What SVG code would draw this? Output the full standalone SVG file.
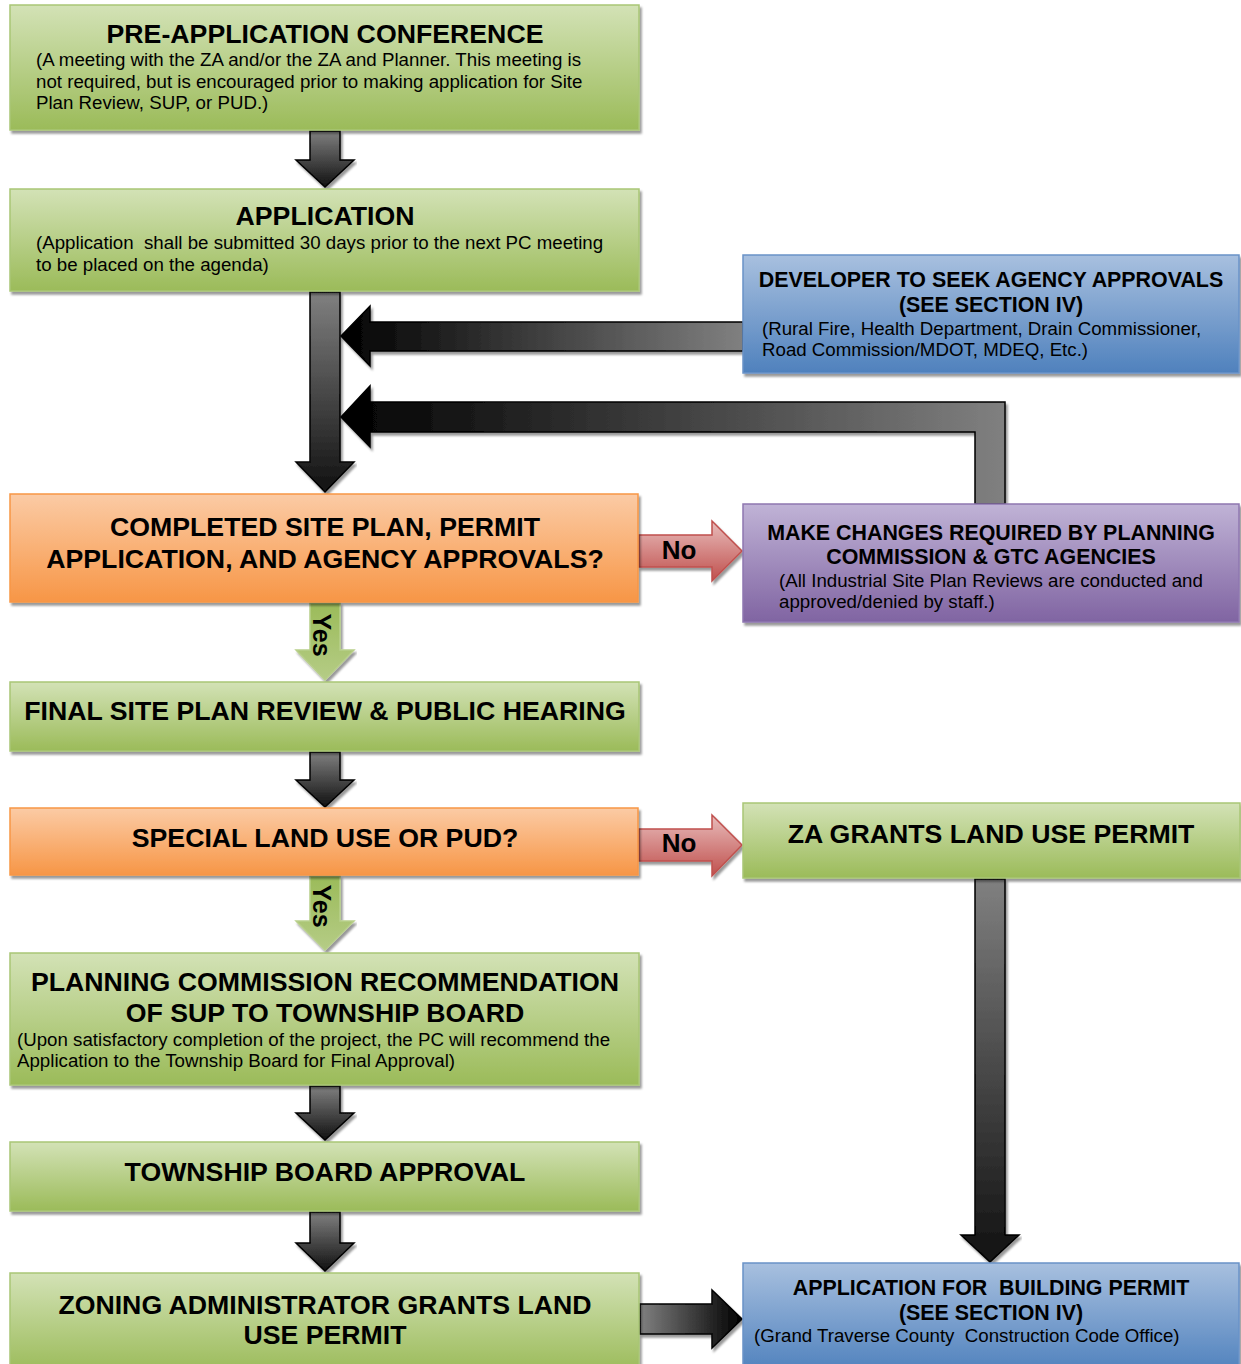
<svg xmlns="http://www.w3.org/2000/svg" width="1241" height="1364" viewBox="0 0 1241 1364">
<defs>
<linearGradient id="gGreen" x1="0" y1="0" x2="0" y2="1"><stop offset="0" stop-color="#d3e2b6"/><stop offset="1" stop-color="#9bbb59"/></linearGradient>
<linearGradient id="gOrange" x1="0" y1="0" x2="0" y2="1"><stop offset="0" stop-color="#fbcba5"/><stop offset="1" stop-color="#f79646"/></linearGradient>
<linearGradient id="gBlue" x1="0" y1="0" x2="0" y2="1"><stop offset="0" stop-color="#a8c0df"/><stop offset="1" stop-color="#4f81bd"/></linearGradient>
<linearGradient id="gPurple" x1="0" y1="0" x2="0" y2="1"><stop offset="0" stop-color="#c0b3d6"/><stop offset="1" stop-color="#8064a2"/></linearGradient>
<linearGradient id="gDown" x1="0" y1="0" x2="0" y2="1"><stop offset="0" stop-color="#808080"/><stop offset="1" stop-color="#111"/></linearGradient>
<linearGradient id="gLeft" x1="0" y1="0" x2="1" y2="0"><stop offset="0" stop-color="#000"/><stop offset="1" stop-color="#808080"/></linearGradient>
<linearGradient id="gRight" x1="0" y1="0" x2="1" y2="0"><stop offset="0" stop-color="#808080"/><stop offset="1" stop-color="#000"/></linearGradient>
<linearGradient id="gRed" x1="0" y1="0" x2="0" y2="1"><stop offset="0" stop-color="#e8bcbb"/><stop offset="1" stop-color="#c0504d"/></linearGradient>
<linearGradient id="gYes" x1="0" y1="0" x2="0" y2="1"><stop offset="0" stop-color="#9bbb59"/><stop offset="1" stop-color="#b5cc86"/></linearGradient>
<filter id="sh" x="-5%" y="-5%" width="110%" height="120%"><feDropShadow dx="2" dy="3" stdDeviation="1" flood-color="#000" flood-opacity="0.4"/></filter>
</defs>
<style>
.t{font-family:"Liberation Sans",Arial,sans-serif;font-weight:bold;fill:#000;text-anchor:middle;white-space:pre}
.b{font-family:"Liberation Sans",Arial,sans-serif;fill:#000;white-space:pre}
.green{fill:url(#gGreen);stroke:#a9c676;stroke-width:1.5;filter:url(#sh)}
.orange{fill:url(#gOrange);stroke:#f79646;stroke-width:1.5;filter:url(#sh)}
.blue{fill:url(#gBlue);stroke:#6a93c8;stroke-width:1.5;filter:url(#sh)}
.purple{fill:url(#gPurple);stroke:#8f77b0;stroke-width:1.5;filter:url(#sh)}
.dk{stroke:#000;stroke-width:1.5;filter:url(#sh)}
.red{fill:url(#gRed);stroke:#c0504d;stroke-width:1.5;filter:url(#sh)}
.yes{fill:url(#gYes);stroke:#b8cf8a;stroke-width:1.5;filter:url(#sh)}
.h{font-size:26.7px}
.hs{font-size:21.4px}
.s{font-size:18.7px}
</style>

<g id="connectors">
<path class="dk" fill="url(#gDown)" d="M310,131 L340,131 L340,160 L354,160 L325,187 L296,160 L310,160 Z"/>
<path class="dk" fill="url(#gDown)" d="M310,292 L340,292 L340,462 L354,462 L325,492 L296,462 L310,462 Z"/>
<path class="dk" fill="url(#gLeft)" d="M341,336 L370,306 L370,322 L743,322 L743,351 L370,351 L370,366 Z"/>
<path class="dk" fill="url(#gLeft)" d="M341,417 L370,386 L370,402 L1005,402 L1005,504 L975,504 L975,432 L370,432 L370,447 Z"/>
<path class="red" d="M639,535 L712,535 L712,521 L742,551 L712,581 L712,567 L639,567 Z"/>
<text class="t" x="679" y="559" font-size="26">No</text>
<path class="yes" d="M310,603 L340,603 L340,650 L354,650 L325,680 L296,650 L310,650 Z"/>
<text class="t" x="0" y="0" font-size="25" transform="translate(313,635) rotate(90)">Yes</text>
<path class="dk" fill="url(#gDown)" d="M310,752 L340,752 L340,780 L354,780 L325,807 L296,780 L310,780 Z"/>
<path class="red" d="M639,829 L712,829 L712,815 L742,845 L712,876 L712,861 L639,861 Z"/>
<text class="t" x="679" y="852" font-size="26">No</text>
<path class="yes" d="M310,876 L340,876 L340,921 L354,921 L325,950 L296,921 L310,921 Z"/>
<text class="t" x="0" y="0" font-size="25" transform="translate(313,906) rotate(90)">Yes</text>
<path class="dk" fill="url(#gDown)" d="M310,1086 L340,1086 L340,1113 L354,1113 L325,1140 L296,1113 L310,1113 Z"/>
<path class="dk" fill="url(#gDown)" d="M310,1212 L340,1212 L340,1243 L354,1243 L325,1271 L296,1243 L310,1243 Z"/>
<path class="dk" fill="url(#gDown)" d="M975,879 L1005,879 L1005,1235 L1019,1235 L990,1262 L961,1235 L975,1235 Z"/>
<path class="dk" fill="url(#gRight)" d="M640,1304 L712,1304 L712,1290 L742,1319 L712,1348 L712,1334 L640,1334 Z"/>
</g>

<g id="pre-application">
<rect class="green" x="10" y="5" width="629" height="125"/>
<text class="t h" x="325" y="43">PRE-APPLICATION CONFERENCE</text>
<text class="b s" x="36" y="66">(A meeting with the ZA and/or the ZA and Planner. This meeting is</text>
<text class="b s" x="36" y="88">not required, but is encouraged prior to making application for Site</text>
<text class="b s" x="36" y="109">Plan Review, SUP, or PUD.)</text>
</g>

<g id="application">
<rect class="green" x="10" y="189" width="629" height="102"/>
<text class="t h" x="325" y="225">APPLICATION</text>
<text class="b s" x="36" y="249" xml:space="preserve">(Application  shall be submitted 30 days prior to the next PC meeting</text>
<text class="b s" x="36" y="271">to be placed on the agenda)</text>
</g>

<g id="developer">
<rect class="blue" x="743" y="255" width="496" height="118"/>
<text class="t hs" x="991" y="287">DEVELOPER TO SEEK AGENCY APPROVALS</text>
<text class="t hs" x="991" y="312">(SEE SECTION IV)</text>
<text class="b s" x="762" y="335">(Rural Fire, Health Department, Drain Commissioner,</text>
<text class="b s" x="762" y="356">Road Commission/MDOT, MDEQ, Etc.)</text>
</g>

<g id="completed">
<rect class="orange" x="10" y="494" width="628" height="108"/>
<text class="t h" x="325" y="536">COMPLETED SITE PLAN, PERMIT</text>
<text class="t h" x="325" y="568">APPLICATION, AND AGENCY APPROVALS?</text>
</g>

<g id="make-changes">
<rect class="purple" x="743" y="504" width="496" height="118"/>
<text class="t hs" x="991" y="540">MAKE CHANGES REQUIRED BY PLANNING</text>
<text class="t hs" x="991" y="564">COMMISSION &amp; GTC AGENCIES</text>
<text class="b s" x="779" y="587">(All Industrial Site Plan Reviews are conducted and</text>
<text class="b s" x="779" y="608">approved/denied by staff.)</text>
</g>

<g id="final-site-plan">
<rect class="green" x="10" y="682" width="629" height="69"/>
<text class="t h" x="325" y="720">FINAL SITE PLAN REVIEW &amp; PUBLIC HEARING</text>
</g>

<g id="special-land-use">
<rect class="orange" x="10" y="808" width="628" height="67"/>
<text class="t h" x="325" y="847">SPECIAL LAND USE OR PUD?</text>
</g>

<g id="za-grants">
<rect class="green" x="743" y="803" width="497" height="75"/>
<text class="t h" x="991" y="843">ZA GRANTS LAND USE PERMIT</text>
</g>

<g id="planning-commission">
<rect class="green" x="10" y="953" width="629" height="132"/>
<text class="t h" x="325" y="991">PLANNING COMMISSION RECOMMENDATION</text>
<text class="t h" x="325" y="1022">OF SUP TO TOWNSHIP BOARD</text>
<text class="b s" x="17" y="1046">(Upon satisfactory completion of the project, the PC will recommend the</text>
<text class="b s" x="17" y="1067">Application to the Township Board for Final Approval)</text>
</g>

<g id="township-board">
<rect class="green" x="10" y="1142" width="629" height="69"/>
<text class="t h" x="325" y="1181">TOWNSHIP BOARD APPROVAL</text>
</g>

<g id="zoning-admin">
<rect class="green" x="10" y="1273" width="629" height="100"/>
<text class="t h" x="325" y="1314">ZONING ADMINISTRATOR GRANTS LAND</text>
<text class="t h" x="325" y="1344">USE PERMIT</text>
</g>

<g id="building-permit">
<rect class="blue" x="743" y="1263" width="496" height="110"/>
<text class="t hs" x="991" y="1295" xml:space="preserve">APPLICATION FOR  BUILDING PERMIT</text>
<text class="t hs" x="991" y="1320">(SEE SECTION IV)</text>
<text class="b s" x="754" y="1342" xml:space="preserve">(Grand Traverse County  Construction Code Office)</text>
</g>
</svg>
